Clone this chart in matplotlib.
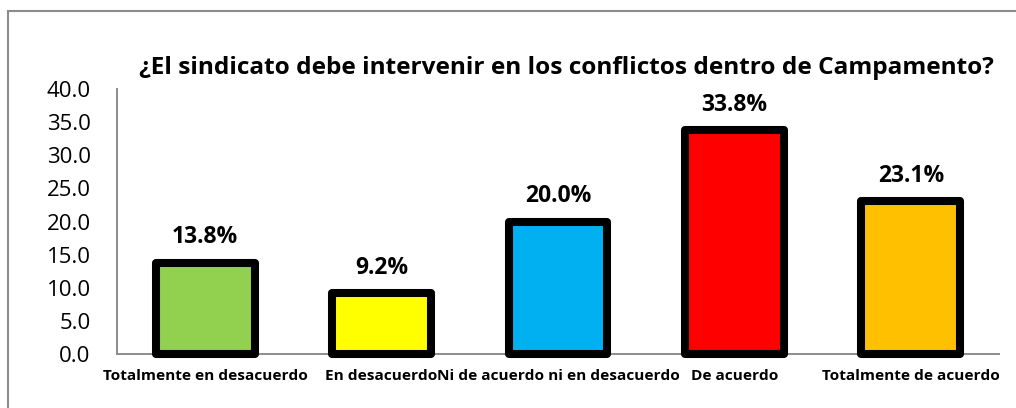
import matplotlib
matplotlib.use("Agg")
import matplotlib.pyplot as plt
from matplotlib.patches import Rectangle

categories = ["Totalmente en desacuerdo", "En desacuerdo",
              "Ni de acuerdo ni en desacuerdo", "De acuerdo",
              "Totalmente de acuerdo"]
values = [13.8, 9.2, 20.0, 33.8, 23.1]
colors = ["#92D050", "#FFFF00", "#00B0F0", "#FF0000", "#FFC000"]
yticks = [0, 5, 10, 15, 20, 25, 30, 35, 40]
title = "¿El sindicato debe intervenir en los conflictos dentro de Campamento?"

plt.rcParams['font.family'] = ['Open Sans', 'DejaVu Sans']

W, H = 1016, 408
fig = plt.figure(figsize=(W / 100, H / 100), dpi=100)
ax = fig.add_axes([117 / W, 1 - 354 / H, (999 - 117) / W, (354 - 89) / H])

x = list(range(len(categories)))
bars = ax.bar(x, values, width=0.56, color=colors, edgecolor="black",
              linewidth=5.8, zorder=3)
for b in bars:
    b.set_joinstyle("round")
    b.set_clip_on(False)

for xi, v in zip(x, values):
    ax.annotate(f"{v:.1f}%", (xi, v), xytext=(0, 14), textcoords="offset points",
                ha="center", va="baseline", fontsize=16.5, fontweight="bold")

ax.set_xlim(-0.5, len(categories) - 0.5)
ax.set_ylim(0, 40)
ax.set_yticks(yticks)
ax.set_yticklabels([f"{t:.1f}" for t in yticks], fontsize=16)
ax.set_xticks(x)
ax.set_xticklabels(categories, fontsize=11.1, fontweight="bold")
ax.tick_params(axis="y", length=0, pad=19)
ax.tick_params(axis="x", length=0, pad=11)

for s in ["top", "right"]:
    ax.spines[s].set_visible(False)
for s in ["left", "bottom"]:
    ax.spines[s].set_color("#8C8C8C")
    ax.spines[s].set_linewidth(1.4)

fig.text(566 / W, 1 - 74 / H, title, ha="center", va="baseline",
         fontsize=17.6, fontweight="bold")

fig.patches.append(Rectangle((8 / W, -0.1), 1.2, 1 - 11 / H + 0.1,
                             transform=fig.transFigure, fill=False,
                             edgecolor="#8C8C8C", linewidth=1.5))

fig.savefig("out.png", dpi=100)
